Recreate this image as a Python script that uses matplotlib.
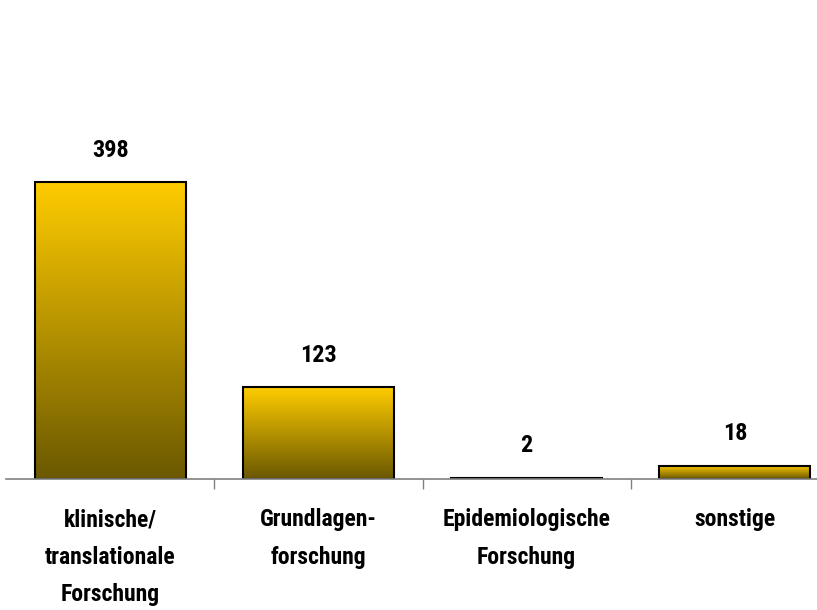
import matplotlib
matplotlib.use("Agg")
import matplotlib.pyplot as plt
import numpy as np
from matplotlib.colors import LinearSegmentedColormap

categories = ["klinische/\ntranslationale\nForschung", "Grundlagen-\nforschung",
              "Epidemiologische\nForschung", "sonstige"]
values = [398, 123, 2, 18]

gold = LinearSegmentedColormap.from_list("gold", ["#6b5800", "#ffcc00"])
font = ["Liberation Sans Narrow", "Roboto Condensed", "Archivo Narrow", "PT Sans Narrow",
        "Sofia Sans Semi Condensed", "DejaVu Sans"]

fig = plt.figure(figsize=(8.17, 6.10), dpi=100)
# axes run past the right edge, like the clipped original slide
ax = fig.add_axes([6/817, 131/610, 833/817, 447/610])

x = np.arange(len(values))
width = 0.725
grad = np.linspace(0, 1, 256).reshape(-1, 1)
for xi, v in zip(x, values):
    ax.imshow(grad, extent=[xi - width/2, xi + width/2, 0, v], origin="lower",
              aspect="auto", cmap=gold, zorder=1)
    ax.bar(xi, v, width=width, facecolor="none", edgecolor="black", linewidth=1.5, zorder=2)
    ax.annotate(str(v), (xi, v), xytext=(0, 15), textcoords="offset points",
                ha="center", va="bottom", fontsize=17.5, fontweight="bold", family=font)

ax.set_xlim(-0.5, len(values) - 0.5)
ax.set_ylim(0, 600)

for s in ["top", "right", "left"]:
    ax.spines[s].set_visible(False)
ax.spines["bottom"].set_color("#808080")
ax.spines["bottom"].set_linewidth(1.2)
ax.set_yticks([])
ax.set_xticks(x)
ax.set_xticklabels(categories, fontsize=17, fontweight="bold", family=font, linespacing=1.8)
ax.tick_params(axis="x", which="major", length=0, pad=21)
ax.set_xticks(x[:-1] + 0.5, minor=True)
ax.tick_params(axis="x", which="minor", length=7, width=1, color="#808080", direction="out")

fig.savefig("out.png", dpi=100)
